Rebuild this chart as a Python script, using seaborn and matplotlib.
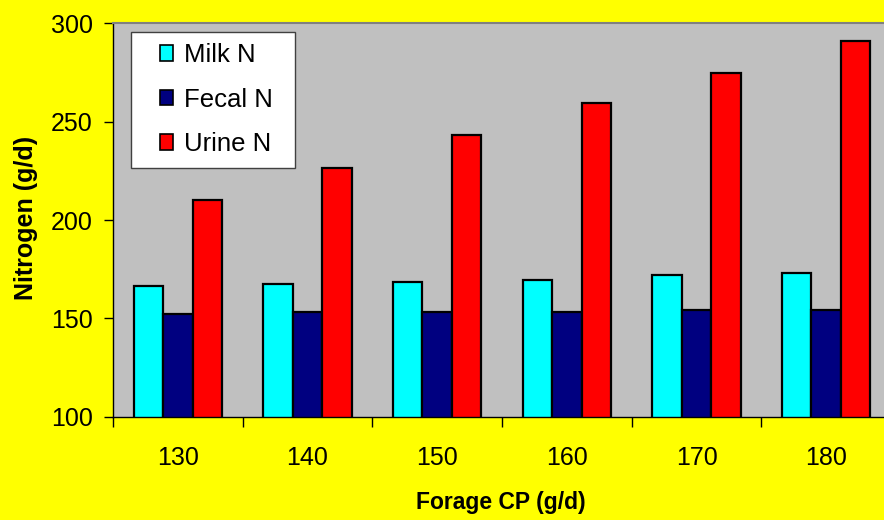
import matplotlib
matplotlib.use("Agg")
import matplotlib.pyplot as plt
from matplotlib.patches import Rectangle, Patch
from matplotlib.ticker import FixedLocator
import seaborn as sns
import pandas as pd

# Nitrogen partitioning by forage crude protein intake
forage_cp = [130, 140, 150, 160, 170, 180]
milk_n = [166.5, 167.5, 168.5, 169.7, 171.9, 172.9]
fecal_n = [152.2, 153.2, 153.4, 153.4, 154.2, 154.2]
urine_n = [210.2, 226.4, 243.1, 259.3, 274.9, 291.2]
series_names = ["Milk N", "Fecal N", "Urine N"]
series_colors = ["#00FFFF", "#000080", "#FF0000"]
y_ticks = [100, 150, 200, 250, 300]

df = pd.DataFrame({
    "cp": forage_cp * 3,
    "value": milk_n + fecal_n + urine_n,
    "series": [s for s in series_names for _ in forage_cp],
})

sns.set_theme(style="white")
plt.rcParams["font.family"] = ["Liberation Sans", "DejaVu Sans"]
plt.rcParams["text.color"] = "black"

W, H = 884, 520
fig = plt.figure(figsize=(W / 100, H / 100), dpi=100)
fig.patch.set_facecolor("#FFFF00")

def fx(px):
    return px / W

def fy(py):
    return 1 - py / H

ax_left, ax_right, ax_top, ax_bottom = 113, 891, 23.3, 416.7
ax = fig.add_axes([fx(ax_left), fy(ax_bottom), fx(ax_right - ax_left),
                   (ax_bottom - ax_top) / H])
ax.set_facecolor("#C0C0C0")

sns.barplot(data=df, x="cp", y="value", hue="series", hue_order=series_names,
            palette=series_colors, width=0.68, gap=0, edgecolor="black",
            linewidth=1.6, saturation=1, errorbar=None, ax=ax, legend=False)

ax.set_ylim(100, 300)
ax.set_xlim(-0.5, len(forage_cp) - 0.5)
ax.set_yticks(y_ticks)
ax.set_yticklabels([str(v) for v in y_ticks], fontsize=18, color="black")
ax.set_xticks(range(len(forage_cp)))
ax.set_xticklabels([str(v) for v in forage_cp], fontsize=18, color="black")
ax.xaxis.set_minor_locator(FixedLocator([i - 0.5 for i in range(len(forage_cp) + 1)]))
ax.tick_params(axis="x", which="major", length=0, pad=21)
ax.tick_params(axis="x", which="minor", length=7, width=1, color="black",
               direction="out", bottom=True)
ax.tick_params(axis="y", which="major", length=6.5, width=1, color="black",
               direction="out", left=True, pad=8)

for side in ["left", "bottom"]:
    ax.spines[side].set_color("black")
    ax.spines[side].set_linewidth(1.0)
ax.spines["top"].set_color("#808080")
ax.spines["top"].set_linewidth(1.5)
ax.spines["right"].set_visible(False)

ax.set_xlabel("")
ax.set_ylabel("")
fig.text(fx(26.5), fy(218), "Nitrogen (g/d)", rotation=90, ha="center",
         va="center", fontsize=18, fontweight="bold", color="black")
fig.text(fx(501), fy(503), "Forage CP (g/d)", ha="center", va="center",
         fontsize=16.5, fontweight="bold", color="black")

# Legend box
fig.patches.append(Rectangle((fx(131), fy(168)), fx(295 - 131), (168 - 32) / H,
                             transform=fig.transFigure, facecolor="white",
                             edgecolor="#404040", linewidth=1.0, zorder=5))
handles = [Patch(facecolor=c, edgecolor="black", linewidth=1.2) for c in series_colors]
leg = fig.legend(handles, series_names, loc="upper left",
                 bbox_to_anchor=(fx(160), fy(43)), bbox_transform=fig.transFigure,
                 frameon=False, fontsize=18.5, handlelength=0.5, handleheight=0.55,
                 handletextpad=0.45, labelspacing=0.8, borderpad=0,
                 borderaxespad=0)
leg.set_zorder(6)

fig.savefig("out.png", dpi=100, facecolor=fig.get_facecolor())
